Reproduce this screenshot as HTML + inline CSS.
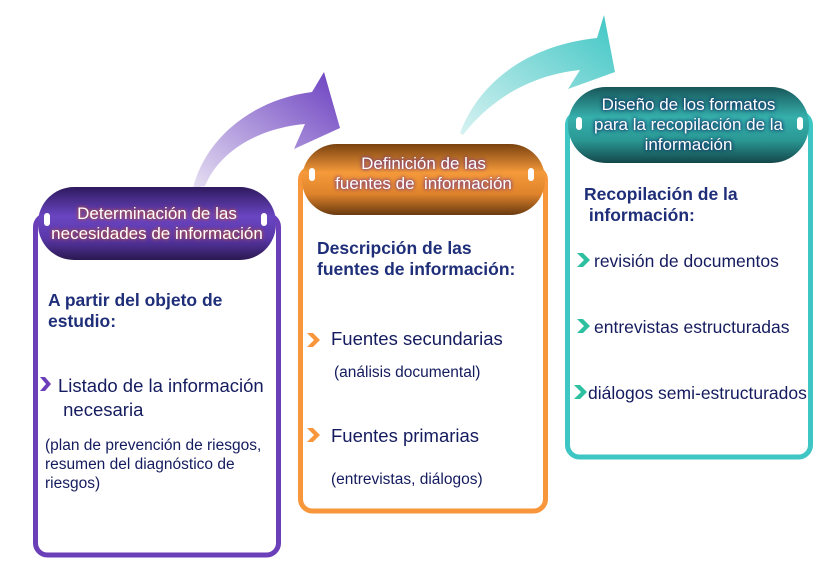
<!DOCTYPE html>
<html><head><meta charset="utf-8"><style>
body{margin:0;width:835px;height:576px;background:#fff;overflow:hidden;font-family:"Liberation Sans",sans-serif}
svg{position:absolute;left:0;top:0}
.t{position:absolute;white-space:nowrap}
.h{color:#fff;font-size:17px;text-align:center;line-height:20px}
.b{color:#1f2e78;font-weight:bold;font-size:17.5px;line-height:21px}
.n{color:#141b5e;font-size:18.5px}
.s{color:#141b5e;font-size:15.5px;line-height:19px}
.tq{font-size:17.5px}
</style></head><body>
<svg width="835" height="576">
<defs>
<linearGradient id="pa" x1="0" y1="1" x2="1" y2="0"><stop offset="0" stop-color="#e6dff2"/><stop offset="1" stop-color="#6a3fc0"/></linearGradient>
<linearGradient id="ta" x1="0" y1="1" x2="1" y2="0"><stop offset="0" stop-color="#d8f2f2"/><stop offset="1" stop-color="#3ec6c4"/></linearGradient>
<linearGradient id="ph" x1="0" y1="0" x2="0" y2="1"><stop offset="0" stop-color="#2e1a5e"/><stop offset=".4" stop-color="#6a45c2"/><stop offset=".7" stop-color="#5a38aa"/><stop offset="1" stop-color="#2a1850"/></linearGradient>
<linearGradient id="oh" x1="0" y1="0" x2="0" y2="1"><stop offset="0" stop-color="#7a4210"/><stop offset=".4" stop-color="#f59a3a"/><stop offset=".7" stop-color="#e0842c"/><stop offset="1" stop-color="#6a3a10"/></linearGradient>
<linearGradient id="th" x1="0" y1="0" x2="0" y2="1"><stop offset="0" stop-color="#17575a"/><stop offset=".4" stop-color="#36b0ac"/><stop offset=".7" stop-color="#2a9894"/><stop offset="1" stop-color="#14474a"/></linearGradient>
</defs>
<path d="M193,188 C205,140 250,100 312,92 L324,72 L340,128 L294,149 L305,124 C260,128 220,150 205,186 Z" fill="url(#pa)"/>
<path d="M460,133 C480,80 530,45 597,38 L604,15 L615,72 L568,89 L580,70 C530,75 490,100 463,135 Z" fill="url(#ta)"/>
<rect x="35.5" y="215" width="243" height="340" rx="12" fill="#fff" stroke="#6a3fb8" stroke-width="5"/>
<rect x="300.5" y="168" width="245" height="343" rx="12" fill="#fff" stroke="#f7963a" stroke-width="5"/>
<rect x="567.5" y="113" width="243" height="344" rx="12" fill="#fff" stroke="#3ec6c4" stroke-width="5"/>
<rect x="38" y="187" width="238" height="73" rx="36" fill="url(#ph)"/>
<rect x="302" y="144" width="243" height="71" rx="35" fill="url(#oh)"/>
<rect x="568" y="87" width="241" height="76" rx="38" fill="url(#th)"/>
<g fill="#fff"><rect x="44" y="213" width="6" height="13" rx="3"/><rect x="261" y="213" width="6" height="13" rx="3"/>
<rect x="309" y="168" width="6" height="13" rx="3"/><rect x="528" y="168" width="6" height="13" rx="3"/>
<rect x="576" y="117" width="6" height="13" rx="3"/><rect x="797" y="117" width="6" height="13" rx="3"/></g>
<g fill="#6a3fb8"><path d="M40,377 l5,0 l6,7 l-6,7 l-5,0 l6,-7z"/></g>
<g fill="#f7963a"><path d="M307,333 l6,0 l7,7 l-7,7 l-6,0 l7,-7z"/><path d="M307,428 l6,0 l7,7 l-7,7 l-6,0 l7,-7z"/></g>
<g fill="#2cc0a0"><path d="M577,253 l6,0 l7,7 l-7,7 l-6,0 l7,-7z"/><path d="M577,319 l6,0 l7,7 l-7,7 l-6,0 l7,-7z"/><path d="M574,385 l6,0 l7,7 l-7,7 l-6,0 l7,-7z"/></g>
</svg>
<div class="t h" style="left:38px;width:238px;top:204px;text-shadow:0 0 4px #b05040,0 0 3px #b05040">Determinación de las<br>necesidades de información</div>
<div class="t h" style="left:302px;width:243px;top:154px;text-shadow:0 0 4px #7a3a80,0 0 3px #7a3a80">Definición de las<br>fuentes de &nbsp;información</div>
<div class="t h" style="left:568px;width:241px;top:95px;text-shadow:0 0 4px #10306a,0 0 3px #10306a">Diseño de los formatos<br>para la recopilación de la<br>información</div>
<div class="t b" style="left:48px;top:290px">A partir del objeto de<br>estudio:</div>
<div class="t n" style="left:58px;top:374px;line-height:24px">Listado de la información<br>&nbsp;necesaria</div>
<div class="t s" style="left:45px;top:436px">(plan de prevención de riesgos,<br>resumen del diagnóstico de<br>riesgos)</div>
<div class="t b" style="left:317px;top:238px">Descripción de las<br>fuentes de información:</div>
<div class="t n" style="left:331px;top:328px">Fuentes secundarias</div>
<div class="t s" style="left:334px;top:363px">(análisis documental)</div>
<div class="t n" style="left:331px;top:425px">Fuentes primarias</div>
<div class="t s" style="left:331px;top:470px">(entrevistas, diálogos)</div>
<div class="t b" style="left:584px;top:184px">Recopilación de la<br>&nbsp;información:</div>
<div class="t n tq" style="left:594px;top:251px">revisión de documentos</div>
<div class="t n tq" style="left:594px;top:317px">entrevistas estructuradas</div>
<div class="t n tq" style="left:588px;top:383px">diálogos semi-estructurados</div>
</body></html>
